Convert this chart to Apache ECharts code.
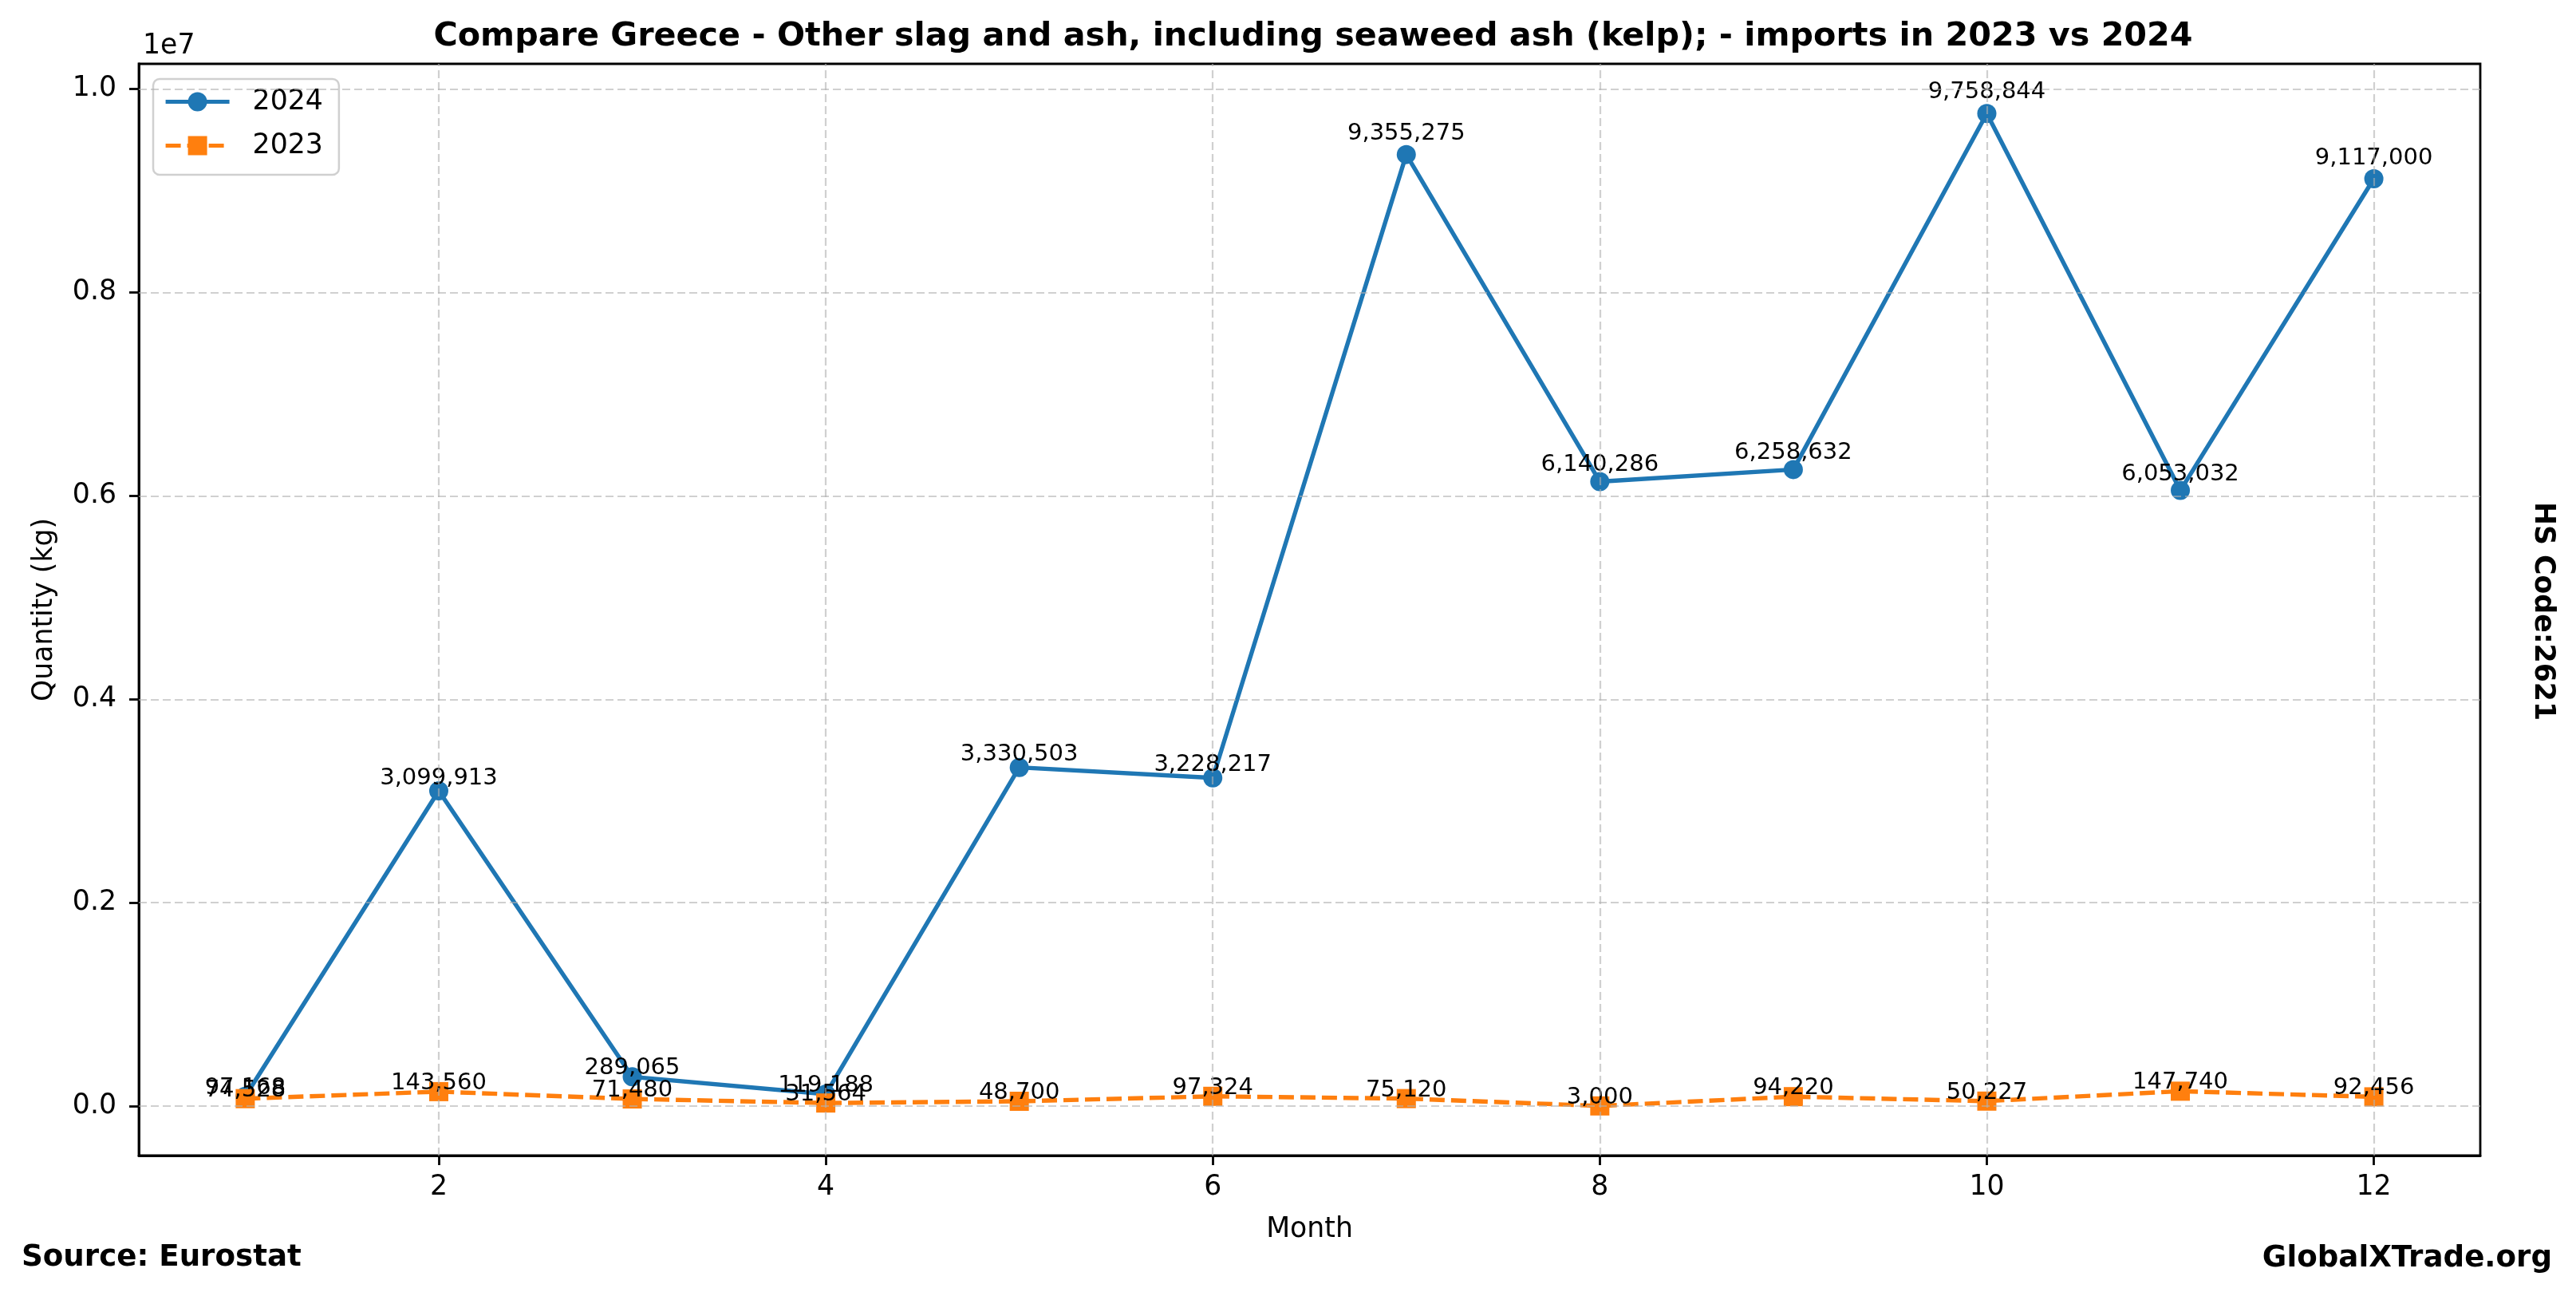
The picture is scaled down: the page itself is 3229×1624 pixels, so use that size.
<!DOCTYPE html>
<html>
<head>
<meta charset="utf-8">
<script src="https://cdn.jsdelivr.net/npm/echarts@6/dist/echarts.min.js"></script>
<style>
html,body{margin:0;padding:0;background:#fff;}
#chart{width:3229px;height:1624px;}
</style>
</head>
<body>
<div id="chart"></div>
<script>
const months = [1,2,3,4,5,6,7,8,9,10,11,12];
const values2024 = [97168, 3099913, 289065, 119188, 3330503, 3228217, 9355275, 6140286, 6258632, 9758844, 6053032, 9117000];
const values2023 = [74528, 143560, 71480, 31564, 48700, 97324, 75120, 3000, 94220, 50227, 147740, 92456];
const xTicks = [2,4,6,8,10,12];
const yTicks = [0, 2000000, 4000000, 6000000, 8000000, 10000000];
const titleText = 'Compare Greece - Other slag and ash, including seaweed ash (kelp); - imports in 2023 vs 2024';

const FONT = 'DejaVu Sans';
const all = values2024.concat(values2023);
const dmin = Math.min(...all), dmax = Math.max(...all);
const ymarg = (dmax - dmin) * 0.05;
const xmarg = (months[months.length-1] - months[0]) * 0.05;
const yMin = dmin - ymarg, yMax = dmax + ymarg;

const GRID = {left: 174, right: 120, top: 80, bottom: 176};
const plotH = 1624 - GRID.top - GRID.bottom;
const pxPerUnit = plotH / (yMax - yMin);
// labels sit slightly above value*(1+1.28%), like the source annotations
const labelLift = v => v * 0.0128 * pxPerUnit;

const fmt = v => v.toLocaleString('en-US');
const gridColor = 'rgba(176,176,176,0.6)';

const mkData = vals => months.map((m, i) => ({
  value: [m, vals[i]],
  label: {offset: [0, -labelLift(vals[i])]}
}));

const chart = echarts.init(document.getElementById('chart'), null, {renderer:'canvas'});
chart.setOption({
  backgroundColor: '#fff',
  animation: false,
  textStyle: {fontFamily: FONT},
  title: {
    text: titleText,
    left: 1641, top: 21, textAlign: 'center',
    textStyle: {fontFamily: FONT, fontWeight: 'bold', fontSize: 41.3, color: '#000'}
  },
  grid: Object.assign({show: true, borderColor: '#000', borderWidth: 2.8, backgroundColor: 'transparent'}, GRID),
  legend: {
    data: ['2024', '2023'],
    orient: 'vertical', left: 192, top: 99,
    itemWidth: 80, itemHeight: 30, itemGap: 20,
    padding: [11, 20, 19, 13],
    borderColor: '#d0d0d0', borderWidth: 2.5, borderRadius: 8,
    backgroundColor: 'rgba(255,255,255,0.8)',
    lineStyle: {width: 5.2},
    textStyle: {fontFamily: FONT, fontSize: 34.7, color: '#000', padding: [0,0,0,24]}
  },
  xAxis: {
    type: 'value', min: months[0] - xmarg, max: months[months.length-1] + xmarg,
    name: 'Month', nameLocation: 'middle', nameGap: 75,
    nameTextStyle: {fontFamily: FONT, fontSize: 34.7, color: '#000'},
    axisLine: {show: true, onZero: false, lineStyle: {color: '#000', width: 2.8}},
    axisTick: {show: true, length: 12, lineStyle: {color: '#000', width: 2.8}, customValues: xTicks},
    axisLabel: {fontFamily: FONT, fontSize: 34.7, color: '#000', margin: 22, customValues: xTicks, formatter: v => String(v)},
    splitLine: {show: false}
  },
  yAxis: {
    type: 'value', min: yMin, max: yMax,
    name: 'Quantity (kg)', nameLocation: 'middle', nameGap: 101, nameRotate: 90,
    nameTextStyle: {fontFamily: FONT, fontSize: 34.7, color: '#000'},
    axisLine: {show: true, onZero: false, lineStyle: {color: '#000', width: 2.8}},
    axisTick: {show: true, length: 12, lineStyle: {color: '#000', width: 2.8}, customValues: yTicks},
    axisLabel: {fontFamily: FONT, fontSize: 34.7, color: '#000', margin: 28, customValues: yTicks, formatter: v => (v/1e7).toFixed(1)},
    splitLine: {show: false}
  },
  graphic: [
    {type: 'text', left: 179, top: 40, style: {text: '1e7', fontFamily: FONT, fontSize: 34.7, fill: '#000'}},
    {type: 'text', x: 27, y: 1576, style: {text: 'Source: Eurostat', fontFamily: FONT, fontWeight: 'bold', fontSize: 37.2, fill: '#000', textAlign: 'left', textVerticalAlign: 'middle'}},
    {type: 'text', x: 3199, y: 1577, style: {text: 'GlobalXTrade.org', fontFamily: FONT, fontWeight: 'bold', fontSize: 37.2, fill: '#000', textAlign: 'right', textVerticalAlign: 'middle'}},
    {type: 'text', x: 3187, y: 766, rotation: -Math.PI/2, style: {text: 'HS Code:2621', fontFamily: FONT, fontWeight: 'bold', fontSize: 34.7, fill: '#000', textAlign: 'center', textVerticalAlign: 'middle'}}
  ],
  series: [
    {
      name: 'grid', type: 'line', data: [], z: 1, silent: true,
      markLine: {
        silent: true, symbol: 'none', animation: false,
        label: {show: false},
        lineStyle: {color: gridColor, width: 2.2, type: [10, 5]},
        data: yTicks.map(v => ({yAxis: v})).concat(xTicks.map(v => ({xAxis: v})))
      }
    },
    {
      name: '2024', type: 'line', z: 3,
      data: mkData(values2024),
      symbol: 'circle', symbolSize: 24,
      itemStyle: {color: '#1f77b4'},
      lineStyle: {color: '#1f77b4', width: 5.4},
      label: {show: true, position: 'top', distance: -16, fontFamily: FONT, fontSize: 29, color: '#000', formatter: p => fmt(p.value[1])}
    },
    {
      name: '2023', type: 'line', z: 4,
      data: mkData(values2023),
      symbol: 'rect', symbolSize: 24,
      itemStyle: {color: '#ff7f0e'},
      lineStyle: {color: '#ff7f0e', width: 5.4, type: [19, 8]},
      label: {show: true, position: 'top', distance: -16, fontFamily: FONT, fontSize: 29, color: '#000', formatter: p => fmt(p.value[1])}
    }
  ]
});
</script>
</body>
</html>
